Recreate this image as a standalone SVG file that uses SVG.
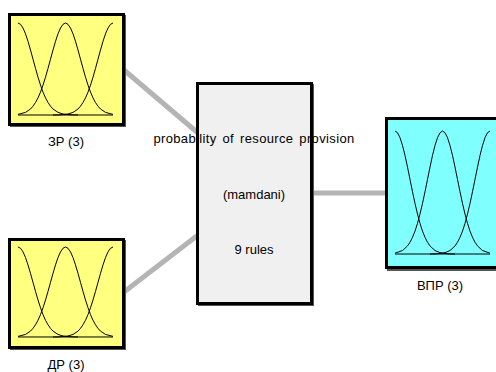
<svg xmlns="http://www.w3.org/2000/svg" xmlns:xlink="http://www.w3.org/1999/xlink" width="496" height="372" viewBox="0 0 496 372">
<style>
.box{stroke:#000;stroke-width:3}
.shadow{fill:#555}
.mf{fill:none;stroke:#000;stroke-width:1;vector-effect:non-scaling-stroke;stroke-linejoin:round}
.conn{stroke:#b4b4b4;stroke-width:5;fill:none}
text{font-family:"Liberation Sans",Arial,sans-serif;font-size:13px;fill:#000;text-anchor:middle}
</style>
<defs>
<g id="mfset">
<polyline class="mf" points="0,0 2.5,1.3 5,5 7.5,10.8 10,18.3 12.5,27 15,36.2 17.5,45.4 20,54.2 22.5,62.1 25,69.1 27.5,74.9 30,79.5 32.5,83.2 35,86 40,89.4 45,91 50,91.6 55,91.9 60,92"/>
<polyline class="mf" points="0,91.4 7.5,89.4 12.5,86 15,83.2 17.5,79.5 20,74.9 22.5,69.1 25,62.1 27.5,54.2 30,45.4 32.5,36.2 35,27 37.5,18.3 40,10.8 42.5,5 45,1.3 47.5,0 50,1.3 52.5,5 55,10.8 57.5,18.3 60,27 62.5,36.2 65,45.4 67.5,54.2 70,62.1 72.5,69.1 75,74.9 77.5,79.5 80,83.2 82.5,86 87.5,89.4 95,91.4"/>
<polyline class="mf" points="95,0 92.5,1.3 90,5 87.5,10.8 85,18.3 82.5,27 80,36.2 77.5,45.4 75,54.2 72.5,62.1 70,69.1 67.5,74.9 65,79.5 62.5,83.2 60,86 55,89.4 50,91 45,91.6 40,91.9 35,92"/>
<line class="mf" x1="0" y1="92" x2="95" y2="92"/>
</g>
</defs>
<g id="connectors">
<line class="conn" x1="124" y1="70" x2="198" y2="133"/>
<line class="conn" x1="124" y1="292" x2="198" y2="235"/>
<line class="conn" x1="312" y1="193" x2="387" y2="193"/>
</g>
<g id="node-zr">
<rect class="shadow" x="10" y="15" width="116" height="112"/>
<rect class="box" x="9.5" y="14.5" width="114" height="110" fill="#ffff80"/>
<use xlink:href="#mfset" transform="translate(18,23)"/>
<text x="66" y="146">ЗР (3)</text>
</g>
<g id="node-dr">
<rect class="shadow" x="10" y="240" width="116" height="110"/>
<rect class="box" x="9.5" y="239.5" width="114" height="108" fill="#ffff80"/>
<use xlink:href="#mfset" transform="translate(18,247) scale(1,0.978)"/>
<text x="66" y="369">ДР (3)</text>
</g>
<g id="node-rules">
<rect class="shadow" x="198" y="84" width="116" height="222"/>
<rect class="box" x="197.5" y="83.5" width="114" height="220" fill="#f0f0f0"/>
<text x="254" y="143" style="word-spacing:2px;letter-spacing:0.35px">probability of resource provision</text>
<text x="254" y="199">(mamdani)</text>
<text x="254" y="254">9 rules</text>
</g>
<g id="node-vpr">
<rect class="shadow" x="387" y="120" width="122" height="151"/>
<rect class="box" x="386.5" y="118.5" width="120" height="149" fill="#80ffff"/>
<use xlink:href="#mfset" transform="translate(395,131) scale(1,1.337)"/>
<text x="440" y="290">ВПР (3)</text>
</g>
</svg>
